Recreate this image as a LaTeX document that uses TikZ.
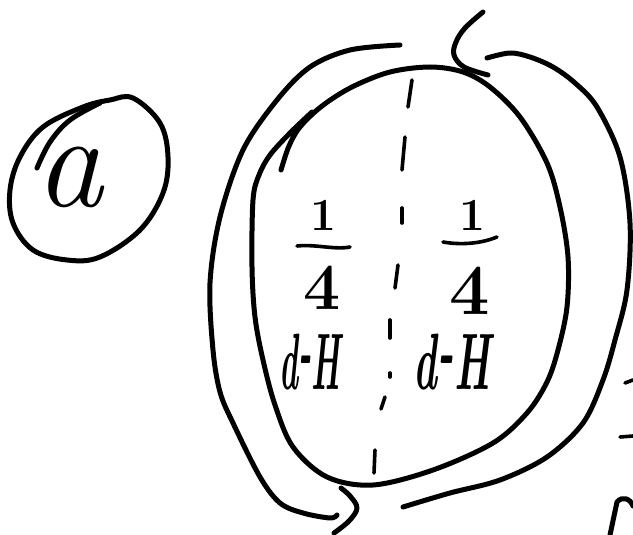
\documentclass[tikz,border=0pt]{standalone}
\usepackage{fontspec}
\usepackage{graphicx}
\begin{document}
\begin{tikzpicture}[x=1pt,y=-1pt,
  pen/.style={line width=5pt,line cap=round,line join=round},
  thinpen/.style={line width=3.6pt,line cap=round,line join=round},
  lbl/.style={inner sep=0pt,outer sep=0pt}]
\useasboundingbox (0,0) rectangle (633,535);
\fill[white] (0,0) rectangle (633,535);

% ---- circled "a" ----
\node[lbl] (a) at (69,177) {\fontsize{135}{135}\selectfont\itshape a};
\draw[pen] plot[smooth cycle,tension=0.6] coordinates {(133,98) (160,123) (168,157) (163,193) (140,230) (100,257) (67,260) (33,250) (13,223) (10,190) (20,157) (43,127) (83,107) (110,100)};
\draw[pen] plot[smooth,tension=0.6] coordinates {(37,168) (50,142) (70,120) (100,103)};

% ---- inner circle ----
\draw[pen] plot[smooth,tension=0.55] coordinates {(281,170) (289,146) (300,127) (322,106) (352,87) (390,72) (430,67) (463,72) (490,87) (520,117) (547,163) (560,207) (568,257) (567,307) (558,350) (547,382) (527,413) (493,443) (433,470) (373,485) (327,477) (293,447) (275,405) (263,360) (255,317) (252,267) (253,200) (259,175) (270,155) (290,133) (312,112)};

% ---- outer left bracket ----
\draw[pen] plot[smooth,tension=0.55] coordinates {(400,45) (350,50) (310,67) (277,100) (243,150) (220,217) (210,283) (213,350) (220,392) (233,423) (260,477) (280,503) (303,513) (330,518) (337,515)};
\draw[pen] plot[smooth,tension=0.6] coordinates {(341,488) (350,496) (357,508) (349,521) (334,533)};

% ---- outer right bracket ----
\draw[pen] plot[smooth,tension=0.55] coordinates {(487,58) (510,53) (530,57) (553,67) (575,83) (597,107) (620,157) (630,223) (627,290) (615,340) (603,380) (583,423) (547,457) (500,480) (450,493) (403,507)};
\draw[pen] plot[smooth,tension=0.6] coordinates {(483,12) (465,28) (456,42) (454,55) (464,67) (488,75)};

% ---- dashed divider ----
\draw[thinpen] (412,80) -- (408,107);
\draw[thinpen] (405,137) -- (402,170);
\draw[thinpen] (402,208) -- (402,223);
\draw[thinpen] (398,265) -- (395,288);
\draw[thinpen] (390,320) -- (390,338);
\draw[thinpen] (390,373) -- (390,377);
\draw[thinpen] (385,397) -- (381,409);
\draw[thinpen] (375,450) -- (374,473);

% ---- left half ----
\node[lbl] (oneL) at (323,215) {\fontsize{46}{46}\selectfont\bfseries 1};
\coordinate (barLa) at (297,246);
\coordinate (barLb) at (350,247);
\draw[thinpen] (barLa) .. controls (315,244) and (335,250) .. (barLb);
\node[lbl] (fourL) at (322,288) {\fontsize{66}{66}\selectfont\bfseries 4};
\node[lbl] (dhL) at (310,362) {\scalebox{0.4}[1]{\fontsize{80}{80}\selectfont\bfseries\itshape d\raisebox{0.15em}{-}H}};

% ---- right half ----
\node[lbl] (oneR) at (472,215) {\fontsize{46}{46}\selectfont\bfseries 1};
\coordinate (barRa) at (443,242);
\coordinate (barRb) at (497,237);
\draw[thinpen] (barRa) .. controls (460,245) and (480,244) .. (barRb);
\node[lbl] (fourR) at (470,291) {\fontsize{72}{72}\selectfont\bfseries 4};
\node[lbl] (dhR) at (452,362) {\scalebox{0.5}[1]{\fontsize{80}{80}\selectfont\bfseries\itshape d\raisebox{0.15em}{-}H}};

% ---- clipped marks at right edge ----
\draw[thinpen] (625,383) -- (633,380);
\draw[thinpen] (620,437) -- (633,436);
\draw[pen] (610,535) -- (617,502) .. controls (622,496) and (630,498) .. (633,506);
\end{tikzpicture}
\end{document}
